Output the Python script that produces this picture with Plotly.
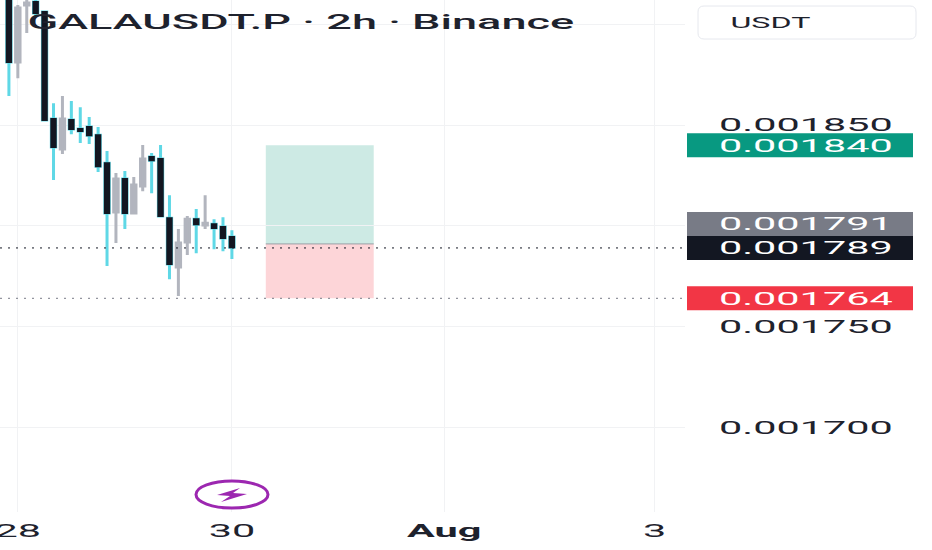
#!/usr/bin/env python3
"""GALAUSDT.P 2h chart with a long position box"""

import plotly.graph_objects as go

# Bars are indexed from the last one (30 Jul) = 0
bar_index = list(range(-25, 1))
opens = [0.0019200, 0.0018813, 0.0019096, 0.0019111, 0.0019061, 0.0018530, 0.0018381,
         0.0018525, 0.0018480, 0.0018490, 0.0018450, 0.0018311, 0.0018068, 0.0018232,
         0.0018063, 0.0018197, 0.0018341, 0.0018331, 0.0018038, 0.0017795, 0.0017919,
         0.0018033, 0.0018004, 0.0018008, 0.0017994, 0.0017944]
closes = [0.0018813, 0.0019081, 0.0019106, 0.0019056, 0.0018525, 0.0018391, 0.0018530,
          0.0018480, 0.0018470, 0.0018450, 0.0018296, 0.0018063, 0.0018232, 0.0018063,
          0.0018202, 0.0018331, 0.0018326, 0.0018048, 0.0017810, 0.0017914, 0.0018033,
          0.0018008, 0.0018013, 0.0017989, 0.0017939, 0.0017894]
highs = [0.0019300, 0.0019096, 0.0019121, 0.0019121, 0.0019061, 0.0018609, 0.0018644,
         0.0018619, 0.0018589, 0.0018540, 0.0018490, 0.0018371, 0.0018262, 0.0018272,
         0.0018242, 0.0018401, 0.0018361, 0.0018401, 0.0018152, 0.0017984, 0.0018048,
         0.0018083, 0.0018152, 0.0018033, 0.0018043, 0.0017978]
lows = [0.0018644, 0.0018733, 0.0018957, 0.0019041, 0.0018530, 0.0018227, 0.0018356,
        0.0018455, 0.0018411, 0.0018406, 0.0018267, 0.0017800, 0.0017914, 0.0017984,
        0.0018063, 0.0018172, 0.0018162, 0.0018048, 0.0017735, 0.0017651, 0.0017855,
        0.0017864, 0.0017984, 0.0017884, 0.0017874, 0.0017835]

# 0.00180 and 0.00190 only show as grid lines, their labels sit under the badge and the USDT box
y_ticks = [0.00170, 0.00175, 0.00180, 0.00185, 0.00190]
y_labels = ["0.001700", "0.001750", "", "0.001850", ""]
x_ticks = [-24, 0, 23.8, 47.4]
x_labels = ["28", "30", "<b>Aug</b>", "3"]

target = 0.001840
entry = 0.001791
last_price = 0.001789
stop = 0.001764
box_start, box_end = 3.8, 15.9

WIDTH, HEIGHT = 932, 550
PLOT_W, PLOT_H = 685, 512
DOWN_BODY, UP_BODY = "#131722", "#b2b5be"
DOWN_WICK, UP_WICK = "#5fd8e6", "#b2b5be"
TEXT = "#1e222d"
GRID = "#f1f2f4"
FONT = "Roboto"
STRETCH = 2.3


def px_x(x):
    return x / PLOT_W


def px_y(y):
    return 1 - y / PLOT_H


def badge(price, color, text, shift=0):
    """Price badge on the right scale, sized in pixels around the price"""
    shapes.append(dict(type="rect", xref="paper", yref="y", ysizemode="pixel", yanchor=price,
                       x0=px_x(687), x1=px_x(913), y0=shift - 12, y1=shift + 12,
                       fillcolor=color, line_width=0, layer="above"))
    annotations.append(dict(xref="paper", yref="y", x=px_x(806), y=price, yshift=shift,
                            text=text, showarrow=False, xanchor="center", yanchor="middle",
                            font=dict(family=FONT, size=18, color="#ffffff")))


shapes = [
    # position box
    dict(type="rect", x0=box_start, x1=box_end, y0=entry, y1=target,
         fillcolor="#cdeae4", line_width=0, layer="below"),
    dict(type="rect", x0=box_start, x1=box_end, y0=stop, y1=entry,
         fillcolor="#fdd5d8", line_width=0, layer="below"),
    dict(type="line", x0=box_start, x1=box_end, y0=entry, y1=entry,
         line=dict(color="#9aa0a6", width=1)),
    # dotted price lines
    dict(type="line", xref="paper", x0=0, x1=1, y0=last_price, y1=last_price,
         line=dict(color="#131722", width=1, dash="2px,6px")),
    dict(type="line", xref="paper", x0=0, x1=1, y0=stop, y1=stop,
         line=dict(color="#787b86", width=1, dash="2px,6px")),
    # USDT box
    dict(type="path", xref="paper", yref="paper", layer="above", fillcolor="#ffffff",
         line=dict(color="#e6e8ee", width=1),
         path=(f"M {px_x(704)} {px_y(6)} L {px_x(910)} {px_y(6)} "
               f"Q {px_x(916)} {px_y(6)} {px_x(916)} {px_y(12)} L {px_x(916)} {px_y(33)} "
               f"Q {px_x(916)} {px_y(39)} {px_x(910)} {px_y(39)} L {px_x(704)} {px_y(39)} "
               f"Q {px_x(698)} {px_y(39)} {px_x(698)} {px_y(33)} L {px_x(698)} {px_y(12)} "
               f"Q {px_x(698)} {px_y(6)} {px_x(704)} {px_y(6)} Z")),
    # lightning badge
    dict(type="circle", xref="paper", yref="paper", x0=px_x(196), x1=px_x(268),
         y0=px_y(508), y1=px_y(481), fillcolor="#ffffff", layer="above",
         line=dict(color="#9c27b0", width=3)),
    dict(type="path", xref="paper", yref="paper", layer="above", fillcolor="#9c27b0", line_width=0,
         path=(f"M {px_x(217)} {px_y(495)} L {px_x(240)} {px_y(488)} L {px_x(233)} {px_y(493)} "
               f"L {px_x(247)} {px_y(494)} L {px_x(221)} {px_y(502)} L {px_x(230)} {px_y(496)} Z")),
]

annotations = [
    dict(xref="paper", yref="paper", x=px_x(301), y=px_y(22), text="GALAUSDT.P · 2h · Binance",
         showarrow=False, xanchor="center", yanchor="middle",
         font=dict(family=FONT, size=19.6, color=TEXT, weight=500)),
    dict(xref="paper", yref="paper", x=px_x(770), y=px_y(23), text="USDT",
         showarrow=False, xanchor="center", yanchor="middle",
         font=dict(family=FONT, size=14, color=TEXT)),
]

badge(target, "#089981", f"{target:.6f}")
badge(entry, "#787b86", f"{entry:.6f}", shift=20)
badge(last_price, "#131722", f"{last_price:.6f}")
badge(stop, "#f23645", f"{stop:.6f}")

fig = go.Figure()

# wicks, the bodies are covered by the second trace
fig.add_trace(go.Candlestick(
    x=bar_index, open=opens, high=highs, low=lows, close=closes,
    increasing=dict(line=dict(color=UP_WICK, width=3), fillcolor=UP_BODY),
    decreasing=dict(line=dict(color=DOWN_WICK, width=3), fillcolor=DOWN_BODY),
    whiskerwidth=0, showlegend=False,
))

# bodies only, no wick range
fig.add_trace(go.Candlestick(
    x=bar_index, open=opens, close=closes,
    high=[max(o, c) for o, c in zip(opens, closes)],
    low=[min(o, c) for o, c in zip(opens, closes)],
    increasing=dict(line=dict(color=UP_BODY, width=2), fillcolor=UP_BODY),
    decreasing=dict(line=dict(color=DOWN_BODY, width=2), fillcolor=DOWN_BODY),
    whiskerwidth=0, showlegend=False,
))

fig.update_layout(
    width=WIDTH, height=HEIGHT,
    margin=dict(l=0, r=WIDTH - PLOT_W, t=0, b=HEIGHT - PLOT_H),
    paper_bgcolor="#ffffff", plot_bgcolor="#ffffff",
    showlegend=False,
    shapes=shapes, annotations=annotations,
    xaxis=dict(range=[-26.0, 50.8], tickvals=x_ticks, ticktext=x_labels,
               showgrid=True, gridcolor=GRID, zeroline=False, showline=False,
               rangeslider=dict(visible=False), ticks="", ticklabelstandoff=6,
               tickfont=dict(family=FONT, size=18, color=TEXT), automargin=False),
    yaxis=dict(range=[0.0016579, 0.0019121], side="right", tickvals=y_ticks, ticktext=y_labels,
               showgrid=True, gridcolor=GRID, zeroline=False, showline=False,
               ticks="", ticklabelstandoff=33,
               tickfont=dict(family=FONT, size=18, color=TEXT), automargin=False),
)

# The source picture is squashed horizontally, stretch the text the same way
stretch_js = """
document.body.style.margin = '0';
document.querySelectorAll('.xtick text, .ytick text, .annotation-text').forEach(function (t) {
    t.setAttribute('textLength', t.getComputedTextLength() * %s);
    t.setAttribute('lengthAdjust', 'spacingAndGlyphs');
});
""" % STRETCH

fig.write_html("out.html", post_script=stretch_js, config=dict(displayModeBar=False))
